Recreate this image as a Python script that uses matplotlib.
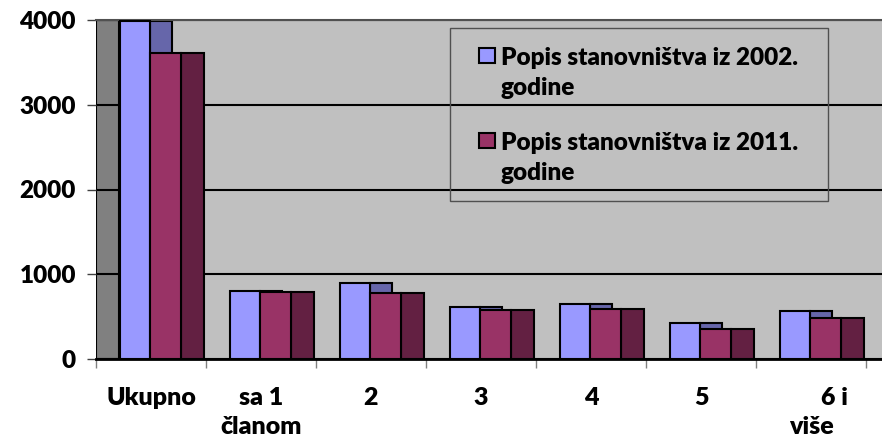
import numpy as np
import matplotlib.pyplot as plt
from matplotlib.patches import Rectangle

# data
categories = ['Ukupno', 'sa 1\nčlanom', '2', '3', '4', '5', '        6 i\nviše']
popis_2002 = [3990, 802, 897, 614, 649, 425, 566]
popis_2011 = [3611, 790, 779, 578, 590, 354, 484]
legend_first = ['Popis stanovništva iz 2002.', 'Popis stanovništva iz 2011.']
legend_second = ['godine', 'godine']
yticks = [0, 1000, 2000, 3000, 4000]

plt.rcParams['font.family'] = ['Lato', 'DejaVu Sans']
FW = 'heavy'
FS = 17.5

W, H = 882, 443
fig = plt.figure(figsize=(W / 100, H / 100), dpi=100)
ax = fig.add_axes([96 / W, 1 - 359 / H, 786 / W, 339 / H])
ax.set_facecolor('#c0c0c0')
ax.set_xlim(0, 786 / 110)
ax.set_ylim(0, 4000)

x = np.arange(len(categories))
c_blue, c_blue_side = '#9999ff', '#6666aa'
c_red, c_red_side = '#993366', '#632042'

# left wall
ax.add_patch(Rectangle((0, 0), 23 / 110, 4000, facecolor='#808080',
                       edgecolor='black', lw=1.5, zorder=0.3))

# bars: side faces first, front faces on top
ax.bar(x + 0.49, popis_2002, width=0.20, align='edge', color=c_blue_side,
       edgecolor='black', lw=1.5, zorder=2)
ax.bar(x + 0.215, popis_2002, width=0.275, align='edge', color=c_blue,
       edgecolor='black', lw=1.5, zorder=3)
ax.bar(x + 0.775, popis_2011, width=0.205, align='edge', color=c_red_side,
       edgecolor='black', lw=1.5, zorder=3)
ax.bar(x + 0.495, popis_2011, width=0.28, align='edge', color=c_red,
       edgecolor='black', lw=1.5, zorder=4)

# axes styling
ax.set_yticks(yticks)
ax.set_yticklabels([str(v) for v in yticks], fontsize=FS, fontweight=FW)
ax.yaxis.grid(True, color='black', lw=1.5)
ax.set_axisbelow(True)
ax.tick_params(axis='y', length=6.5, width=1, color='#404040', pad=8)

ax.set_xticks(np.arange(len(categories) + 1))
ax.set_xticklabels([])
ax.set_xticks(x + 0.5, minor=True)
ax.set_xticklabels(categories, minor=True, fontsize=18, fontweight=FW,
                   linespacing=1.4)
ax.tick_params(axis='x', which='major', length=6.5, width=1, color='#808080')
ax.tick_params(axis='x', which='minor', length=0, pad=20)

for s in ['left', 'right']:
    ax.spines[s].set_visible(False)
ax.spines['top'].set_color('#505050')
ax.spines['top'].set_linewidth(1.5)
ax.spines['bottom'].set_linewidth(2)
ax.spines['bottom'].set_zorder(5)

# legend drawn by hand (marker aligned with first line)
def fx(px):
    return px / W

def fy(py):
    return 1 - py / H

fig.patches.append(Rectangle((fx(450), fy(201)), fx(828) - fx(450), fy(28) - fy(201),
                             transform=fig.transFigure, fill=False,
                             edgecolor='#505050', lw=1, zorder=6))
for i, col in enumerate([c_blue, c_red]):
    top = 48 + 85 * i
    fig.patches.append(Rectangle((fx(479), fy(top + 15)), fx(495) - fx(479),
                                 fy(top) - fy(top + 15), transform=fig.transFigure,
                                 facecolor=col, edgecolor='black', lw=1.5, zorder=6))
    fig.text(fx(501), fy(65 + 85 * i), legend_first[i], fontsize=FS,
             fontweight=FW, va='baseline', ha='left', zorder=6)
    fig.text(fx(501), fy(95 + 85 * i), legend_second[i], fontsize=FS,
             fontweight=FW, va='baseline', ha='left', zorder=6)

fig.savefig('out.png', dpi=100)
